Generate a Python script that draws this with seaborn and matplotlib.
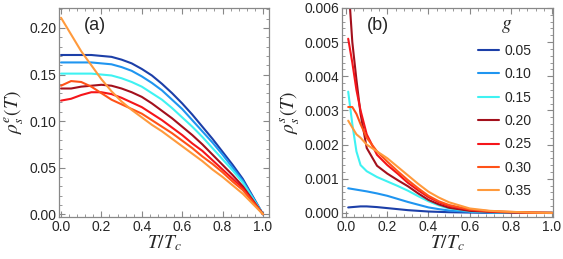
import numpy as np
import pandas as pd
import matplotlib
matplotlib.use("Agg")
import matplotlib.pyplot as plt
from matplotlib.ticker import MultipleLocator, AutoMinorLocator
import seaborn as sns

# coupling values and colours
g_labels = ["0.05", "0.10", "0.15", "0.20", "0.25", "0.30", "0.35"]
colors = ["#1c3fa8", "#1f95f0", "#3ff2f2", "#a3101c", "#f5151a", "#ff5218", "#ff9a3c"]

# panel (a): rho_s^e(T)
T_a = [0.0, 0.05, 0.1, 0.15, 0.2, 0.25, 0.3, 0.35, 0.4, 0.45, 0.5,
       0.55, 0.6, 0.65, 0.7, 0.75, 0.8, 0.85, 0.9, 0.95, 1.0]
rho_e_005 = [0.171, 0.171, 0.171, 0.171, 0.170, 0.169, 0.166, 0.162, 0.156, 0.149, 0.140,
             0.130, 0.119, 0.107, 0.094, 0.081, 0.067, 0.053, 0.038, 0.019, 0.0]
rho_e_010 = [0.163, 0.163, 0.163, 0.163, 0.162, 0.161, 0.158, 0.154, 0.148, 0.141, 0.133,
             0.123, 0.113, 0.101, 0.089, 0.077, 0.064, 0.050, 0.036, 0.018, 0.0]
rho_e_015 = [0.151, 0.151, 0.151, 0.151, 0.150, 0.149, 0.146, 0.142, 0.137, 0.130, 0.123,
             0.114, 0.104, 0.094, 0.083, 0.071, 0.059, 0.047, 0.034, 0.017, 0.0]
rho_e_020 = [0.135, 0.135, 0.137, 0.138, 0.139, 0.138, 0.135, 0.131, 0.126, 0.119, 0.111,
             0.103, 0.094, 0.085, 0.075, 0.064, 0.053, 0.042, 0.030, 0.015, 0.0]
rho_e_025 = [0.122, 0.124, 0.128, 0.131, 0.131, 0.129, 0.125, 0.120, 0.115, 0.108, 0.101,
             0.093, 0.085, 0.076, 0.068, 0.058, 0.048, 0.038, 0.028, 0.014, 0.0]
rho_e_030 = [0.138, 0.143, 0.142, 0.137, 0.130, 0.123, 0.118, 0.113, 0.108, 0.101, 0.094,
             0.087, 0.079, 0.071, 0.062, 0.054, 0.045, 0.035, 0.026, 0.013, 0.0]
rho_e_035 = [0.211, 0.193, 0.175, 0.160, 0.145, 0.132, 0.121, 0.112, 0.104, 0.096, 0.089,
             0.081, 0.073, 0.065, 0.057, 0.048, 0.040, 0.031, 0.022, 0.011, 0.0]

# panel (b): rho_s^s(T)
T_b = [0.01, 0.03, 0.05, 0.07, 0.1, 0.15, 0.2, 0.25, 0.3, 0.35, 0.4, 0.45, 0.5,
       0.6, 0.7, 0.8, 0.9, 1.0]
rho_s_005 = [0.00016, 0.00017, 0.00018, 0.00019, 0.00019, 0.00017, 0.00014, 0.00011, 0.00008,
             0.00006, 0.00004, 0.00003, 0.00002, 0.00001, 0.0, 0.0, 0.0, 0.0]
rho_s_010 = [0.00072, 0.00070, 0.00068, 0.00066, 0.00063, 0.00057, 0.00050, 0.00041, 0.00032,
             0.00024, 0.00016, 0.00011, 0.00007, 0.00003, 0.00001, 0.0, 0.0, 0.0]
rho_s_015 = [0.00355, 0.0026, 0.0018, 0.0014, 0.00122, 0.00105, 0.00092, 0.00079, 0.00065,
             0.00049, 0.00034, 0.00022, 0.00013, 0.00005, 0.00002, 0.00001, 0.0, 0.0]
rho_s_020 = [0.0068, 0.0050, 0.0039, 0.0029, 0.0019, 0.00138, 0.00115, 0.00096, 0.00078,
             0.00057, 0.00038, 0.00025, 0.00015, 0.00006, 0.00003, 0.00001, 0.0, 0.0]
rho_s_025 = [0.0051, 0.0044, 0.0036, 0.0030, 0.0023, 0.0017, 0.0014, 0.00115, 0.00088,
             0.00066, 0.00046, 0.00031, 0.0002, 0.00009, 0.00004, 0.00002, 0.00001, 0.0]
rho_s_030 = [0.0031, 0.0031, 0.0029, 0.0026, 0.0022, 0.0018, 0.0015, 0.00122, 0.00096,
             0.00072, 0.0005, 0.00034, 0.00023, 0.0001, 0.00005, 0.00003, 0.00001, 0.0]
rho_s_035 = [0.0027, 0.0025, 0.0023, 0.0022, 0.0020, 0.0018, 0.0016, 0.00135, 0.0011,
             0.00085, 0.00062, 0.00045, 0.00031, 0.00013, 0.00006, 0.00003, 0.00001, 0.0]

series_a = [rho_e_005, rho_e_010, rho_e_015, rho_e_020, rho_e_025, rho_e_030, rho_e_035]
series_b = [rho_s_005, rho_s_010, rho_s_015, rho_s_020, rho_s_025, rho_s_030, rho_s_035]


def long_table(T, series):
    rows = []
    for g, vals in zip(g_labels, series):
        for t, v in zip(T, vals):
            rows.append({"T": t, "rho": v, "g": g})
    return pd.DataFrame(rows)


df_a = long_table(T_a, series_a)
df_b = long_table(T_b, series_b)

sns.set_theme(style="ticks")
plt.rcParams["font.family"] = ["Liberation Sans", "DejaVu Sans"]
plt.rcParams["mathtext.fontset"] = "stix"

palette = dict(zip(g_labels, colors))

fig = plt.figure(figsize=(5.63, 2.59), dpi=100)
ax_a = fig.add_axes([0.1048, 0.1622, 0.373, 0.807])
ax_b = fig.add_axes([0.6075, 0.1622, 0.3748, 0.807])

sns.lineplot(data=df_a, x="T", y="rho", hue="g", hue_order=g_labels, palette=palette,
             linewidth=1.5, legend=False, ax=ax_a)
sns.lineplot(data=df_b, x="T", y="rho", hue="g", hue_order=g_labels, palette=palette,
             linewidth=1.5, legend=True, ax=ax_b)

ax_a.set_xlim(-0.01, 1.03)
ax_a.set_ylim(-0.003, 0.2215)
ax_a.xaxis.set_major_locator(MultipleLocator(0.2))
ax_a.yaxis.set_major_locator(MultipleLocator(0.05))
ax_a.xaxis.set_major_formatter(plt.FormatStrFormatter("%.1f"))
ax_a.yaxis.set_major_formatter(plt.FormatStrFormatter("%.2f"))
ax_a.set_ylabel(r"$\rho_s^e(T)$", fontsize=14, labelpad=2)
ax_a.text(0.17, 0.203, "(a)", fontsize=13, ha="center", va="center")

ax_b.set_xlim(-0.02, 1.005)
ax_b.set_ylim(-0.00012, 0.006)
ax_b.xaxis.set_major_locator(MultipleLocator(0.2))
ax_b.yaxis.set_major_locator(MultipleLocator(0.001))
ax_b.xaxis.set_major_formatter(plt.FormatStrFormatter("%.1f"))
ax_b.yaxis.set_major_formatter(plt.FormatStrFormatter("%.3f"))
ax_b.set_ylabel(r"$\rho_s^s(T)$", fontsize=14, labelpad=2)
ax_b.text(0.155, 0.0055, "(b)", fontsize=13, ha="center", va="center")

for ax in (ax_a, ax_b):
    ax.set_xlabel(r"$T/T_c$", fontsize=14, labelpad=0)
    ax.xaxis.set_minor_locator(AutoMinorLocator(5))
    ax.yaxis.set_minor_locator(AutoMinorLocator(5))
    ax.tick_params(which="both", direction="in", top=True, right=True,
                   color="#888888", labelsize=10, pad=2)
    ax.tick_params(which="major", length=4, width=0.8)
    ax.tick_params(which="minor", length=2, width=0.6)
    for sp in ax.spines.values():
        sp.set_color("#888888")
        sp.set_linewidth(0.9)

sns.move_legend(ax_b, "upper right", bbox_to_anchor=(0.96, 0.889), frameon=False,
                title=None, fontsize=10, labelspacing=0.68,
                handlelength=1.5, handletextpad=0.45)
# legend heading, set a little closer to the entries than a legend title would be
ax_b.text(0.782, 0.909, "$g$", fontsize=14, ha="center", va="center",
          transform=ax_b.transAxes)

fig.savefig("out.png", dpi=100)
